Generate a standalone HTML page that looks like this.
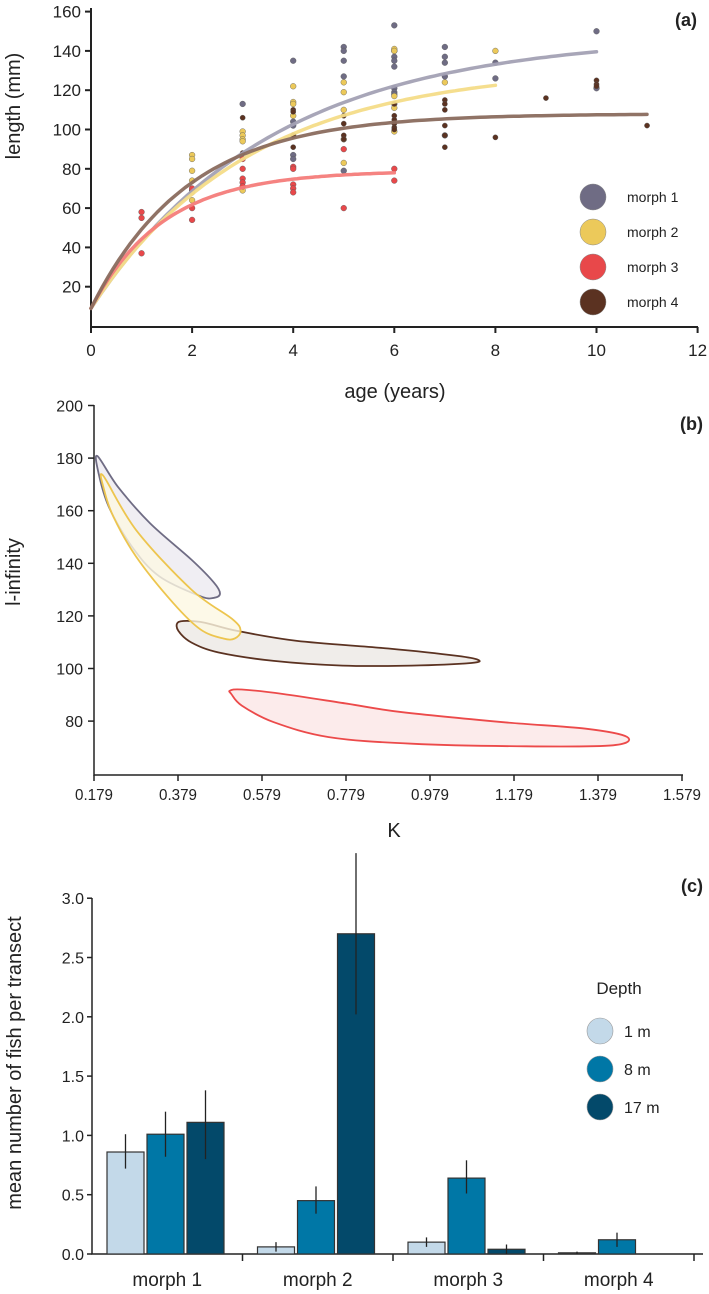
<!DOCTYPE html>
<html><head><meta charset="utf-8">
<style>
html,body{margin:0;padding:0;background:#fff;}
svg{display:block;font-family:"Liberation Sans",Arial,sans-serif;}
</style></head>
<body>
<svg id="fig" width="709" height="1294" viewBox="0 0 709 1294" xmlns="http://www.w3.org/2000/svg">
<g id="pa"></g>
<g id="pb"></g>
<g id="pc"></g>
</svg>
<script>
// ---------- Panel A data ----------
const morphNames = ["morph 1","morph 2","morph 3","morph 4"];
const morphColors = ["#6f6c84","#ecc95a","#e8484a","#5b3221"];
const curveColors = ["#a3a1b4","#f4dc88","#f47c7a","#8a6b5e"];
const curveLinf = [148,132,79,108];
const curveK = [0.28,0.32,0.70,0.52];
const curveTmax = [10,8,6,11];
const curveL0 = 9;
const ageTicks = [0,2,4,6,8,10,12];
const lenTicks = [20,40,60,80,100,120,140,160];
const pts1Age = [2,3,4,4,4,4,4,5,5,5,5,5,6,6,6,6,6,6,6,6,6,7,7,7,7,7,8,8,10,10];
const pts1Len = [69,113,135,104,102,87,85,79,142,140,135,127,113,153,140,137,135,132,121,119,118,97,142,137,134,127,126,134,121,150,133];
const pts2Age = [2,2,2,2,2,2,3,3,3,3,3,4,4,4,4,4,5,5,5,5,5,6,6,6,6,6,7,8];
const pts2Len = [87,85,79,74,68,64,99,97,95,94,69,122,114,113,107,97,124,119,110,95,83,141,140,117,111,99,124,140];
const pts3Age = [1,1,1,2,2,2,3,3,3,3,3,4,4,4,4,4,5,5,6,6];
const pts3Len = [58,55,37,70,60,54,85,80,75,73,71,81,80,72,70,68,90,60,80,74];
const pts4Age = [3,3,4,4,4,4,5,5,5,5,6,6,6,6,6,6,7,7,7,7,7,7,8,9,10,10,10,11];
const pts4Len = [106,88,110,109,97,91,107,103,97,95,113,107,105,103,101,100,115,113,110,102,97,91,96,116,125,123,122,102];

// ---------- Panel B data ----------
const kTicks = [0.179,0.379,0.579,0.779,0.979,1.179,1.379,1.579];
const linfTicks = [80,100,120,140,160,180,200];
const ellFill = ["#eceaf0","#fdf7e2","#fbe6e6","#ece8e5"];
const ellStroke = ["#6f6c84","#edc54e","#ec4a4a","#5b3221"];
const ell1K = [.187,.236,.312,.411,.465,.479,.465,.432,.334,.269,.214,.190];
const ell1L = [180.8,169.1,155.3,141.4,132.6,128.5,126.9,127.5,135.1,146.4,161.6,174.2];
const ell2K = [.201,.279,.411,.509,.528,.514,.487,.432,.367,.279,.225,.203];
const ell2L = [173.3,152.7,130.0,118.7,114.3,111.4,111.4,114.9,125.0,142.6,157.8,167.9];
const ell3K = [.503,.531,.629,.782,.913,1.153,1.350,1.448,1.415,1.208,.935,.738,.607,.531,.506];
const ell3L = [91.6,92.0,90.3,86.6,83.4,79.6,77.1,74.0,70.8,70.4,71.4,73.9,79.6,85.9,90.3];
const ell4K = [.378,.400,.443,.520,.662,.880,1.044,1.093,1.077,.935,.771,.607,.476,.411,.380];
const ell4L = [117.4,118.1,117.4,114.3,110.5,107.6,104.8,103.3,102.1,101.1,101.1,102.9,106.1,109.9,114.3];

// ---------- Panel C data ----------
const depthNames = ["1 m","8 m","17 m"];
const depthColors = ["#c3d9e9","#0077a6","#03496a"];
const barVals = [[0.86,1.01,1.11],[0.06,0.45,2.70],[0.10,0.64,0.04],[0.01,0.12,0]];
const errLo = [[0.72,0.82,0.80],[0.02,0.34,2.02],[0.06,0.51,0.00],[0.00,0.06,0]];
const errHi = [[1.01,1.20,1.38],[0.10,0.57,3.38],[0.14,0.79,0.08],[0.02,0.18,0]];
const countTicks = [0.0,0.5,1.0,1.5,2.0,2.5,3.0];

const NS = "http://www.w3.org/2000/svg";
function mk(parent, tag, attrs, text){
  const e = document.createElementNS(NS, tag);
  for (const k in attrs) e.setAttribute(k, attrs[k]);
  if (text !== undefined) e.textContent = text;
  parent.appendChild(e);
  return e;
}

// ================= PANEL A =================
(function(){
  const g = document.getElementById('pa');
  const X = t => 91 + t*50.55;
  const Y = v => 326 - v*1.965;
  let e;
  e = mk(g,'path',{d:`M91,8 V327 H698`,fill:'none',stroke:'#222','stroke-width':2});
   
  ageTicks.forEach(t=>{
    e = mk(g,'line',{x1:X(t),x2:X(t),y1:327,y2:333,stroke:'#222','stroke-width':2});
     
    e = mk(g,'text',{x:X(t),y:356,'font-size':17,'text-anchor':'middle',fill:'#222'},String(t));
     
  });
  lenTicks.forEach(v=>{
    e = mk(g,'line',{x1:85,x2:91,y1:Y(v),y2:Y(v),stroke:'#222','stroke-width':2});
     
    e = mk(g,'text',{x:81,y:Y(v)+6,'font-size':17,'text-anchor':'end',fill:'#222'},String(v));
     
  });
  e = mk(g,'text',{x:395,y:398,'font-size':20,'text-anchor':'middle',fill:'#222'},'age (years)');
   
  e = mk(g,'text',{x:0,y:0,'font-size':20,'text-anchor':'middle',fill:'#222',transform:'translate(20,106) rotate(-90)'},'length (mm)');
   
  e = mk(g,'text',{x:697,y:26,'font-size':18,'font-weight':'bold','text-anchor':'end',fill:'#222'},'(a)');
   

  const ages=[pts1Age,pts2Age,pts3Age,pts4Age], lens=[pts1Len,pts2Len,pts3Len,pts4Len];
  [0,1,2,3].forEach(m=>{
    ages[m].forEach((a,i)=>{
      e = mk(g,'circle',{cx:X(a),cy:Y(lens[m][i]),r:m===3?2.6:2.9,fill:morphColors[m],stroke:'#555','stroke-width':0.4});
       
    });
  });
  [0,1,2,3].forEach(m=>{
    let d='';
    for(let i=0;i<=100;i++){
      const t=curveTmax[m]*i/100;
      const L=curveLinf[m]-(curveLinf[m]-curveL0)*Math.exp(-curveK[m]*t);
      d+=(i?'L':'M')+X(t).toFixed(1)+','+Y(L).toFixed(1);
    }
    e = mk(g,'path',{d:d,fill:'none',stroke:curveColors[m],'stroke-width':3.5,'stroke-linecap':'round',opacity:0.95});
     
  });
  morphNames.forEach((n,i)=>{
    const cy=197+i*35;
    e = mk(g,'circle',{cx:593,cy:cy,r:13,fill:morphColors[i],stroke:'#888','stroke-width':0.5});
     
    e = mk(g,'text',{x:627,y:cy+5,'font-size':14,fill:'#222'},n);
     
  });
})();

// ================= PANEL B =================
(function(){
  const g = document.getElementById('pb');
  const X = k => 94 + (k-0.179)*420;
  const Y = v => 405.5 + (200-v)*2.63;
  let e;
  e = mk(g,'path',{d:`M94,405 V775 H683`,fill:'none',stroke:'#222','stroke-width':1.5});
   
  kTicks.forEach(k=>{
    e = mk(g,'line',{x1:X(k),x2:X(k),y1:775,y2:781,stroke:'#222','stroke-width':1.5});
     
    e = mk(g,'text',{x:X(k),y:800,'font-size':16,'text-anchor':'middle',fill:'#222',textLength:38,lengthAdjust:'spacingAndGlyphs'},k.toFixed(3));
     
  });
  linfTicks.forEach(v=>{
    e = mk(g,'line',{x1:88,x2:94,y1:Y(v),y2:Y(v),stroke:'#222','stroke-width':1.5});
     
    e = mk(g,'text',{x:83,y:Y(v)+6,'font-size':16,'text-anchor':'end',fill:'#222'},String(v));
     
  });
  e = mk(g,'text',{x:394,y:837,'font-size':20,'text-anchor':'middle',fill:'#222'},'K');
   
  e = mk(g,'text',{x:0,y:0,'font-size':20,'text-anchor':'middle',fill:'#222',transform:'translate(20,572) rotate(-90)'},'l-infinity');
   
  e = mk(g,'text',{x:703,y:430,'font-size':18,'font-weight':'bold','text-anchor':'end',fill:'#222'},'(b)');
   

  function closedSpline(ks, ls){
    const P = ks.map((k,i)=>[X(k),Y(ls[i])]);
    const n=P.length; let d='M'+P[0][0].toFixed(1)+','+P[0][1].toFixed(1);
    for(let i=0;i<n;i++){
      const p0=P[(i-1+n)%n],p1=P[i],p2=P[(i+1)%n],p3=P[(i+2)%n];
      const c1=[p1[0]+(p2[0]-p0[0])/6,p1[1]+(p2[1]-p0[1])/6];
      const c2=[p2[0]-(p3[0]-p1[0])/6,p2[1]-(p3[1]-p1[1])/6];
      d+=`C${c1[0].toFixed(1)},${c1[1].toFixed(1)} ${c2[0].toFixed(1)},${c2[1].toFixed(1)} ${p2[0].toFixed(1)},${p2[1].toFixed(1)}`;
    }
    return d+'Z';
  }
  const E=[[ell1K,ell1L],[ell2K,ell2L],[ell3K,ell3L],[ell4K,ell4L]];
  [3,2,0,1].forEach(m=>{
    e = mk(g,'path',{d:closedSpline(E[m][0],E[m][1]),fill:ellFill[m],'fill-opacity':0.8,stroke:ellStroke[m],'stroke-width':1.8});
     
  });
})();

// ================= PANEL C =================
(function(){
  const g = document.getElementById('pc');
  const Y = v => 1254 - v*118.6;
  const gx0 = 92, gw = 150.5;
  let e;
  e = mk(g,'path',{d:`M92,898 V1254 H703`,fill:'none',stroke:'#222','stroke-width':1.5});
   
  [1,2,3,4].forEach(i=>{
    e = mk(g,'line',{x1:gx0+gw*i,x2:gx0+gw*i,y1:1254,y2:1261,stroke:'#222','stroke-width':1.5});
     
  });
  countTicks.forEach(v=>{
    e = mk(g,'line',{x1:87,x2:92,y1:Y(v),y2:Y(v),stroke:'#222','stroke-width':1.5});
     
    e = mk(g,'text',{x:84,y:Y(v)+6,'font-size':16,'text-anchor':'end',fill:'#222'},v.toFixed(1));
     
  });
  e = mk(g,'text',{x:0,y:0,'font-size':20,'text-anchor':'middle',fill:'#222',transform:'translate(21,1063) rotate(-90)'},'mean number of fish per transect');
   
  e = mk(g,'text',{x:703,y:892,'font-size':18,'font-weight':'bold','text-anchor':'end',fill:'#222'},'(c)');
   
  morphNames.forEach((n,c)=>{
    e = mk(g,'text',{x:gx0+gw*c+gw/2,y:1286,'font-size':19,'text-anchor':'middle',fill:'#222'},n);
     
    barVals[c].forEach((v,d)=>{
      const x = gx0+gw*c+15+d*40;
      if (v>0){
        e = mk(g,'rect',{x:x,y:Y(v),width:37,height:Y(0)-Y(v),fill:depthColors[d],stroke:'#333','stroke-width':1.2});
        
        
      }
      if (errHi[c][d]>errLo[c][d]){
        e = mk(g,'line',{x1:x+18.5,x2:x+18.5,y1:Y(errLo[c][d]),y2:Y(errHi[c][d]),stroke:'#222','stroke-width':1.3});
         
      }
    });
  });
  e = mk(g,'text',{x:619,y:994,'font-size':17,'text-anchor':'middle',fill:'#222'},'Depth');
   
  depthNames.forEach((n,i)=>{
    const cy=1031+i*38;
    e = mk(g,'ellipse',{cx:600,cy:cy,rx:13,ry:13,fill:depthColors[i],stroke:'#999','stroke-width':0.6});
     
    e = mk(g,'text',{x:624,y:cy+6,'font-size':16,fill:'#222'},n);
     
  });
})();
</script>
</body></html>
